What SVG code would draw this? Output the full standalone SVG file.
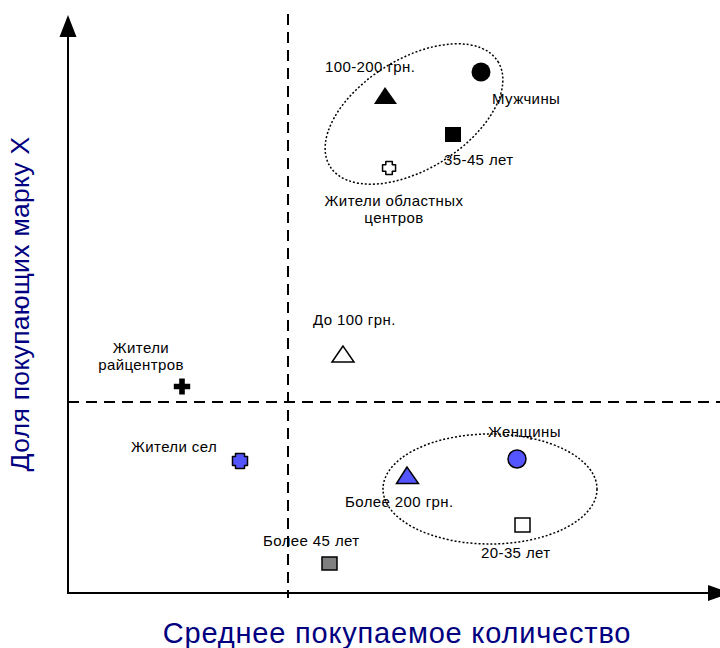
<svg xmlns="http://www.w3.org/2000/svg" width="720" height="648" viewBox="0 0 720 648">
<defs>
<style>
.lbl{font-family:"Liberation Sans",Arial,sans-serif;font-size:15px;letter-spacing:0.4px;fill:#000}
.ax{font-family:"Liberation Sans",Arial,sans-serif;fill:#000080}
.dash{stroke:#000;stroke-width:2;stroke-dasharray:11,7;fill:none}
.dot{stroke:#000;stroke-width:1.5;stroke-dasharray:2,2;fill:none}
.axis{stroke:#000;stroke-width:2;fill:none}
.blk{fill:#000}
.blue{fill:#5555ff;stroke:#000;stroke-width:1.5}
.wht{fill:#fff;stroke:#000;stroke-width:1.5}
</style>
</defs>
<rect width="720" height="648" fill="#fff"/>
<g id="connectors">
<line class="axis" x1="68" y1="593" x2="68" y2="36"/>
<polygon class="blk" points="68,15 59.5,37 76.5,37"/>
<line class="axis" x1="67" y1="593" x2="709" y2="593"/>
<polygon class="blk" points="730,593 708,585 708,601"/>
<line class="dash" x1="288" y1="14" x2="288" y2="598"/>
<line class="dash" x1="68" y1="402" x2="720" y2="402"/>
<ellipse class="dot" cx="414" cy="114" rx="99" ry="55" transform="rotate(-32 414 114)"/>
<ellipse class="dot" cx="490" cy="489" rx="107" ry="55"/>
</g>
<g id="axis-labels">
<text class="ax" x="397" y="643" text-anchor="middle" font-size="29" letter-spacing="0.8">Среднее покупаемое количество</text>
<text class="ax" font-size="26.5" letter-spacing="0.3" transform="translate(29 304) rotate(-90)" text-anchor="middle">Доля покупающих марку Х</text>
</g>
<g id="node-men">
<circle class="blk" cx="481" cy="72" r="9.5"/>
<text class="lbl" x="492" y="104">Мужчины</text>
</g>
<g id="node-100-200">
<polygon class="blk" points="385,87 374,104 397,104"/>
<text class="lbl" x="325" y="72">100-200 грн.</text>
</g>
<g id="node-35-45">
<rect class="blk" x="445" y="127" width="16" height="15"/>
<text class="lbl" x="444" y="165">35-45 лет</text>
</g>
<g id="node-oblast">
<path class="wht" stroke-width="2" stroke-linejoin="round" d="M385.8,161.5 h6.5 v3.25 h3.25 v6.5 h-3.25 v3.25 h-6.5 v-3.25 h-3.25 v-6.5 h3.25 z"/>
<text class="lbl" x="394" y="206" text-anchor="middle">Жители областных</text>
<text class="lbl" x="394" y="223" text-anchor="middle">центров</text>
</g>
<g id="node-do100">
<polygon class="wht" points="343,346 332,362 354,362"/>
<text class="lbl" x="313" y="325">До 100 грн.</text>
</g>
<g id="node-raion">
<path class="blk" d="M179.2,378.5 h5.6 v5.2 h5.4 v5.6 h-5.4 v5.2 h-5.6 v-5.2 h-5.4 v-5.6 h5.4 z"/>
<text class="lbl" x="141" y="353" text-anchor="middle">Жители</text>
<text class="lbl" x="141" y="370" text-anchor="middle">райцентров</text>
</g>
<g id="node-selo">
<path class="blue" stroke-linejoin="round" d="M235.5,453.5 h9 v3 h3 v9 h-3 v3 h-9 v-3 h-3 v-9 h3 z"/>
<text class="lbl" x="131" y="452">Жители сел</text>
</g>
<g id="node-women">
<circle class="blue" stroke-width="1" cx="517" cy="459" r="9"/>
<text class="lbl" x="488" y="437">Женщины</text>
</g>
<g id="node-200plus">
<polygon class="blue" points="407,467 396.5,483.5 418.5,483.5"/>
<text class="lbl" x="345" y="507">Более 200 грн.</text>
</g>
<g id="node-20-35">
<rect class="wht" x="515" y="518" width="15" height="14"/>
<text class="lbl" x="481" y="558">20-35 лет</text>
</g>
<g id="node-45plus">
<rect x="322" y="557" width="15" height="13" fill="#808080" stroke="#000" stroke-width="1.5"/>
<text class="lbl" x="263" y="546">Более 45 лет</text>
</g>
</svg>
